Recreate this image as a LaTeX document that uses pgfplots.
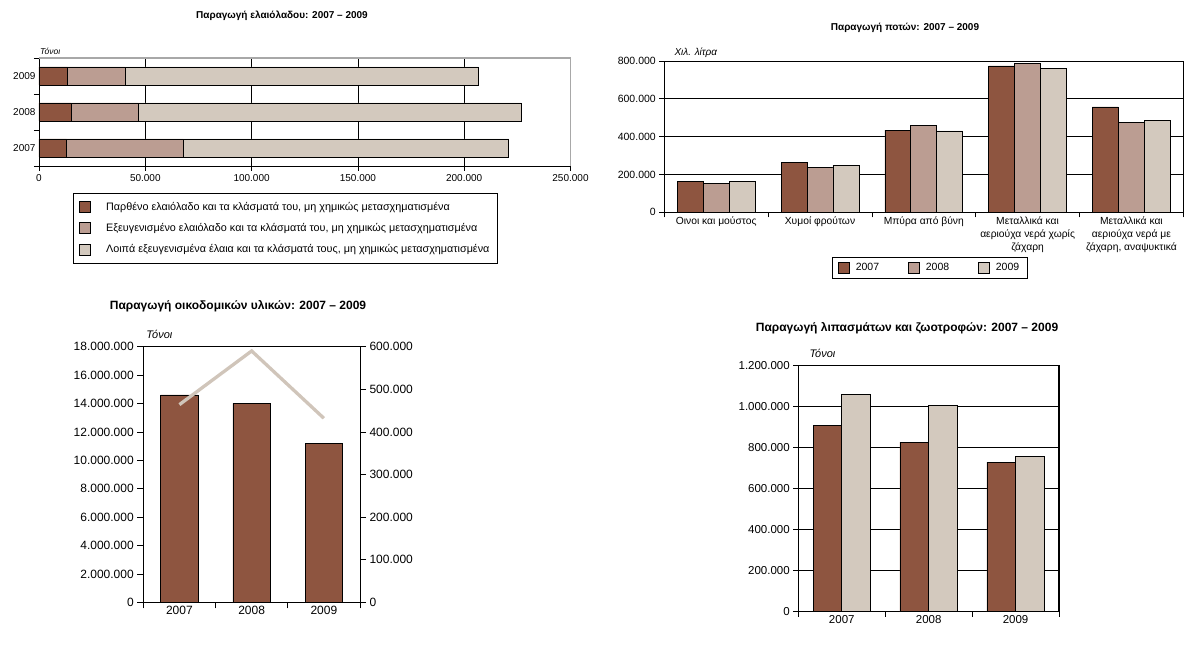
\documentclass[border=0pt]{standalone}
\usepackage{pgfplots}
\pgfplotsset{compat=1.18}
\usepackage{fontspec}
\setmainfont{Liberation Sans}
\definecolor{cDark}{HTML}{8E5540}
\definecolor{cMid}{HTML}{BB9D92}
\definecolor{cLight}{HTML}{D3C9BE}
\definecolor{cLine}{HTML}{D0C5BA}
\definecolor{cFrame}{HTML}{A8A8A8}
\pgfplotsset{
  base/.style={
    scale only axis, anchor=south west, clip=false,
    tick align=outside, major tick length=5pt,
    tick style={black, line width=0.7pt},
    axis line style={black, line width=0.8pt},
    scaled ticks=false,
  },
  sqleg/.style={
    legend image code/.code={\draw[##1, draw=black, line width=0.7pt] (0pt,-5.5pt) rectangle (11pt,5.5pt);},
  },
}
\begin{document}
\begin{tikzpicture}
\useasboundingbox (0pt,0pt) rectangle (1200pt,645pt);

% ---------- titles ----------
\node[font=\bfseries\fontsize{10}{12}\selectfont] at (282pt,629pt) {Παραγωγή ελαιόλαδου: 2007 – 2009};
\node[font=\bfseries\fontsize{10}{12}\selectfont] at (905pt,617pt) {Παραγωγή ποτών: 2007 – 2009};
\node[font=\bfseries\fontsize{12}{14}\selectfont] at (238pt,339pt) {Παραγωγή οικοδομικών υλικών: 2007 – 2009};
\node[font=\bfseries\fontsize{12}{14}\selectfont] at (907pt,317pt) {Παραγωγή λιπασμάτων και ζωοτροφών: 2007 – 2009};

% ---------- chart 1: olive oil ----------
\begin{axis}[base,
  at={(39pt,479pt)}, width=531.5pt, height=108pt,
  xbar stacked, bar width=0.5, sqleg,
  xmin=0, xmax=250000, ymin=-0.5, ymax=2.5,
  axis x line*=bottom, axis y line*=left,
  xtick={0,50000,100000,150000,200000,250000},
  xticklabels={0,50.000,100.000,150.000,200.000,250.000},
  xmajorgrids, grid style={black, line width=0.8pt},
  ytick={-0.5,0.5,1.5,2.5}, yticklabels={},
  extra y ticks={0,1,2}, extra y tick labels={2007,2008,2009},
  extra y tick style={major tick length=0pt},
  tick label style={font=\fontsize{10}{12}\selectfont},
  legend style={at={(0.064,-0.25)}, anchor=north west, draw=black, line width=0.8pt,
    font=\fontsize{10.8}{13}\selectfont, cells={anchor=west}, row sep=7.5pt,
    inner xsep=6pt, inner ysep=7pt,
    /tikz/every odd column/.append style={column sep=13pt}},
]
\addplot[draw=black, line width=0.7pt, fill=cDark] coordinates {(13000,0) (15050,1) (13500,2)};
\addplot[draw=black, line width=0.7pt, fill=cMid] coordinates {(54900,0) (31650,1) (26900,2)};
\addplot[draw=black, line width=0.7pt, fill=cLight] coordinates {(153100,0) (180100,1) (166400,2)};
\legend{{Παρθένο ελαιόλαδο και τα κλάσματά του, μη χημικώς μετασχηματισμένα},
        {Εξευγενισμένο ελαιόλαδο και τα κλάσματά του, μη χημικώς μετασχηματισμένα},
        {Λοιπά εξευγενισμένα έλαια και τα κλάσματά τους, μη χημικώς μετασχηματισμένα}}
\draw[cFrame, line width=1.2pt] (rel axis cs:0,1) -- (rel axis cs:1,1) -- (rel axis cs:1,0);
\node[anchor=south west, inner sep=0pt, font=\itshape\fontsize{8.5}{10}\selectfont, xshift=1pt, yshift=3pt] at (rel axis cs:0,1) {Τόνοι};
\end{axis}

% ---------- chart 2: drinks ----------
\begin{axis}[base,
  at={(664.3pt,432.7pt)}, width=519pt, height=151.3pt,
  ybar=0pt, bar width=0.25, sqleg,
  xmin=-0.5, xmax=4.5, ymin=0, ymax=800000,
  xtick pos=bottom, ytick pos=left,
  xtick={-0.5,0.5,1.5,2.5,3.5,4.5}, xticklabels={},
  extra x ticks={0,1,2,3,4},
  extra x tick labels={Οινοι και μούστος, Χυμοί φρούτων, Μπύρα από βύνη, {Μεταλλικά και\\αεριούχα νερά χωρίς\\ζάχαρη}, {Μεταλλικά και\\αεριούχα νερά με\\ζάχαρη, αναψυκτικά}},
  extra x tick style={major tick length=0pt},
  x tick label style={align=center, font=\fontsize{10.3}{13}\selectfont, yshift=-1pt},
  y tick label style={font=\fontsize{10.5}{12}\selectfont},
  ytick={0,200000,400000,600000,800000},
  yticklabels={0,200.000,400.000,600.000,800.000},
  ymajorgrids, grid style={black, line width=0.8pt},
  legend columns=3,
  legend style={at={(0.3225,-0.297)}, anchor=north west, draw=black, line width=0.8pt,
    font=\fontsize{10.5}{12}\selectfont, inner xsep=6pt, inner ysep=4pt,
    /tikz/every odd column/.append style={column sep=4pt},
    /tikz/every even column/.append style={column sep=27pt}},
]
\addplot[draw=black, line width=0.7pt, fill=cDark] coordinates {(0,163000) (1,263000) (2,434000) (3,774000) (4,557000)};
\addplot[draw=black, line width=0.7pt, fill=cMid] coordinates {(0,154000) (1,238000) (2,460000) (3,785000) (4,477000)};
\addplot[draw=black, line width=0.7pt, fill=cLight] coordinates {(0,163000) (1,249000) (2,430000) (3,759000) (4,487000)};
\legend{2007,2008,2009}
\node[anchor=south west, inner sep=0pt, font=\itshape\fontsize{10}{12}\selectfont, xshift=10pt, yshift=3pt] at (rel axis cs:0,1) {Χιλ. λίτρα};
\end{axis}

% ---------- chart 3: building materials ----------
\begin{axis}[base,
  at={(143.3pt,42.7pt)}, width=216.7pt, height=255.6pt,
  ybar, bar width=0.52,
  xmin=-0.5, xmax=2.5, ymin=0, ymax=18000000,
  xtick pos=bottom, ytick pos=left, major tick length=6pt,
  xtick={-0.5,0.5,1.5,2.5}, xticklabels={},
  extra x ticks={0,1,2}, extra x tick labels={2007,2008,2009},
  extra x tick style={major tick length=0pt},
  tick label style={font=\fontsize{12}{14}\selectfont},
  ytick={0,2000000,4000000,6000000,8000000,10000000,12000000,14000000,16000000,18000000},
  yticklabels={0,2.000.000,4.000.000,6.000.000,8.000.000,10.000.000,12.000.000,14.000.000,16.000.000,18.000.000},
]
\addplot[draw=black, line width=0.7pt, fill=cDark] coordinates {(0,14600000) (1,14000000) (2,11200000)};
\node[anchor=south west, inner sep=0pt, font=\itshape\fontsize{11}{13}\selectfont, xshift=3pt, yshift=8pt] at (rel axis cs:0,1) {Τόνοι};
\end{axis}
\begin{axis}[base,
  at={(143.3pt,42.7pt)}, width=216.7pt, height=255.6pt,
  xmin=-0.5, xmax=2.5, ymin=0, ymax=600000,
  axis x line=none, axis y line*=right, major tick length=6pt,
  tick label style={font=\fontsize{12}{14}\selectfont},
  ytick={0,100000,200000,300000,400000,500000,600000},
  yticklabels={0,100.000,200.000,300.000,400.000,500.000,600.000},
]
\addplot[cLine, line width=3.3pt, mark=none] coordinates {(0,464000) (1,590000) (2,432000)};
\end{axis}

% ---------- chart 4: fertilisers and feed ----------
\begin{axis}[base,
  at={(798.3pt,33.3pt)}, width=260.7pt, height=246pt,
  ybar=0pt, bar width=0.33,
  xmin=-0.5, xmax=2.5, ymin=0, ymax=1200000,
  xtick pos=bottom, ytick pos=left,
  xtick={-0.5,0.5,1.5,2.5}, xticklabels={},
  extra x ticks={0,1,2}, extra x tick labels={2007,2008,2009},
  extra x tick style={major tick length=0pt},
  tick label style={font=\fontsize{11.5}{13}\selectfont},
  ytick={0,200000,400000,600000,800000,1000000,1200000},
  yticklabels={0,200.000,400.000,600.000,800.000,1.000.000,1.200.000},
  ymajorgrids, grid style={black, line width=0.8pt},
]
\addplot[draw=black, line width=0.7pt, fill=cDark] coordinates {(0,910000) (1,827000) (2,730000)};
\addplot[draw=black, line width=0.7pt, fill=cLight] coordinates {(0,1061000) (1,1005000) (2,759000)};
\draw[black, line width=2.4pt] (rel axis cs:1,0) -- (rel axis cs:1,1);
\node[anchor=south west, inner sep=0pt, font=\itshape\fontsize{11}{13}\selectfont, xshift=11pt, yshift=8pt] at (rel axis cs:0,1) {Τόνοι};
\end{axis}
\end{tikzpicture}
\end{document}
